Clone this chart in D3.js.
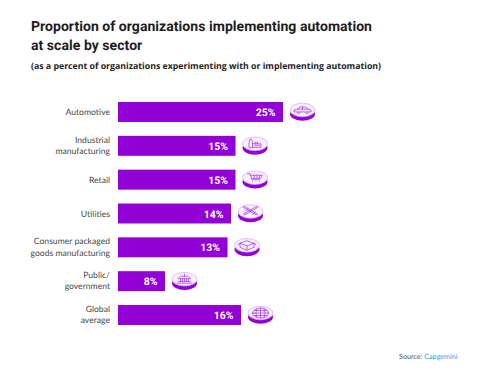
<!DOCTYPE html>
<html>
<head>
<meta charset="utf-8">
<script src="https://cdn.jsdelivr.net/npm/d3@7"></script>
<style>
  html, body { margin: 0; padding: 0; background: #fff; }
  svg { display: block; text-rendering: geometricPrecision; }
</style>
</head>
<body>
<div id="chart"></div>
<script>
// Chart data
const sectors = ["Automotive", "Industrial\nmanufacturing", "Retail", "Utilities",
  "Consumer packaged\ngoods manufacturing", "Public/\ngovernment", "Global\naverage"];
const percents = [25, 15, 15, 14, 13, 8, 16];
const icons = ["car", "factory", "cart", "tools", "box", "building", "globe"];

const width = 488, height = 379;
const purple = "#9300d6";

const svg = d3.select("#chart").append("svg")
  .attr("width", width)
  .attr("height", height);

// The original bars are not drawn in proportion to their labels,
// so the scale has to be piecewise to land on the same lengths
const xScale = d3.scaleLinear()
  .domain([0, 8, 13, 14, 15, 16, 25])
  .range([118, 165, 227.5, 231, 235.5, 241, 283]);

const yScale = d3.scaleBand()
  .domain(sectors)
  .range([102, 325])
  .paddingInner(0.41)
  .paddingOuter(0);

// Title
svg.append("g").selectAll("text")
  .data(["Proportion of organizations implementing automation", "at scale by sector"])
  .enter().append("text")
  .attr("x", 31)
  .attr("y", (d, i) => 31 + i * 18.5)
  .attr("font-family", "Roboto")
  .attr("font-weight", 700)
  .attr("font-size", 14)
  .attr("letter-spacing", 0.05)
  .attr("fill", "#1d1d1d")
  .text(d => d);

svg.append("text")
  .attr("x", 31)
  .attr("y", 69)
  .attr("font-family", "Open Sans")
  .attr("font-weight", 700)
  .attr("font-size", 8.75)
  .attr("fill", "#222")
  .text("(as a percent of organizations experimenting with or implementing automation)");

// Sector labels, split on the line breaks
const rows = svg.selectAll(".row")
  .data(sectors)
  .enter().append("g")
  .attr("class", "row");

rows.append("text")
  .attr("text-anchor", "end")
  .attr("font-family", "Lato")
  .attr("font-size", 8.6)
  .attr("fill", "#4a4a4a")
  .each(function(d) {
    const lines = d.split("\n");
    const mid = yScale(d) + yScale.bandwidth() / 2;
    d3.select(this).selectAll("tspan")
      .data(lines)
      .enter().append("tspan")
      .attr("x", 110)
      .attr("y", (l, i) => mid + 3 + (i - (lines.length - 1) / 2) * 11.5 - (lines.length - 1) * 0.5)
      .text(l => l);
  });

// Bars
rows.append("rect")
  .attr("x", xScale(0))
  .attr("y", d => yScale(d))
  .attr("width", (d, i) => xScale(percents[i]) - xScale(0))
  .attr("height", yScale.bandwidth())
  .attr("fill", purple);

// Value labels
rows.append("text")
  .attr("x", (d, i) => xScale(percents[i]) - 7.5)
  .attr("y", d => yScale(d) + yScale.bandwidth() / 2 + 4)
  .attr("text-anchor", "end")
  .attr("font-family", "Roboto")
  .attr("font-weight", 700)
  .attr("font-size", 10.5)
  .attr("fill", "#fff")
  .text((d, i) => percents[i] + "%");

// Little line glyphs that sit on the coins
const glyphs = {
  car: "M-8.5 1.5 L-8.5 0 L-5 -0.8 L-2.5 -3 L3 -3 L5.5 -0.8 L8.5 0 L8.5 1.5 Z M-5 -0.8 L5.5 -0.8 M0 -3 L0 -0.8 M-5 2.5 a1.2 1.2 0 1 0 2.4 0 M3 2.5 a1.2 1.2 0 1 0 2.4 0",
  factory: "M-6 3.5 L-6 -1.5 L-5 -4.5 L-3.5 -4.5 L-2.5 -1.5 L-2.5 3.5 Z M-2.5 0 L6 0 L6 3.5 L-2.5 3.5 M0 1.5 L1.8 1.5 M3 1.5 L4.6 1.5 M0 0 L0 -1.5 L2.5 -1.5 L2.5 0",
  cart: "M-7.5 -4 L-5 -4 L-3 2 L5 2 M-4.5 -2.4 L7.5 -2.4 L5.5 0.6 L-3.5 0.6 M-2.5 3.8 L-2.4 3.8 M4 3.8 L4.1 3.8 M-1 -2.4 L-0.6 0.6 M2 -2.4 L2 0.6 M5 -2.4 L4.4 0.6",
  tools: "M-7 -4 L6 3.5 L7 2.5 L-6 -5 Z M7 -4 L-6 3.5 L-7 2.5 L6 -5 Z M-5 -0.5 L-2 -3.5 M2 3 L5 0.5",
  box: "M0 -4.5 L7 -2 L0 0.5 L-7 -2 Z M-7 -2 L-7 2 L0 4.8 L7 2 L7 -2 M0 0.5 L0 4.8 M-7 -2 L-9 -0.5 M7 -2 L9 -0.5",
  building: "M-7 4 L7 4 M-6 2.4 L6 2.4 M-6 -0.5 L6 -0.5 L3.5 -3 L-3.5 -3 Z M-4 -0.5 L-4 2.4 M-2 -0.5 L-2 2.4 M0 -0.5 L0 2.4 M2 -0.5 L2 2.4 M4 -0.5 L4 2.4 M0 -3 L0 -5.2",
  globe: "M-8 0 a8 5 0 1 0 16 0 a8 5 0 1 0 -16 0 M-8 0 L8 0 M0 -5 L0 5 M-3.5 -4.5 Q-6 0 -3.5 4.5 M3.5 -4.5 Q6 0 3.5 4.5 M-6.5 -2.5 L6.5 -2.5 M-6.5 2.5 L6.5 2.5"
};

const coins = rows.append("g")
  .attr("transform", (d, i) => `translate(${xScale(percents[i]) + 19.5},${yScale(d) + 8})`);

coins.append("ellipse")
  .attr("cy", 4)
  .attr("rx", 12.5)
  .attr("ry", 6.8)
  .attr("fill", purple);

coins.append("ellipse")
  .attr("rx", 12.5)
  .attr("ry", 6.8)
  .attr("fill", "#f8effd")
  .attr("stroke", "#d9a8f0")
  .attr("stroke-width", 0.7);

coins.append("path")
  .attr("d", (d, i) => glyphs[icons[i]])
  .attr("fill", "none")
  .attr("stroke", "#a030dc")
  .attr("stroke-width", 0.7)
  .attr("stroke-linecap", "round");

// Source line
const source = svg.append("text")
  .attr("x", 399)
  .attr("y", 358.5)
  .attr("font-family", "Lato")
  .attr("font-size", 7.2)
  .attr("fill", "#555");
source.append("tspan").text("Source: ");
source.append("tspan").attr("fill", "#2ea3e6").text("Capgemini");
</script>
</body>
</html>
